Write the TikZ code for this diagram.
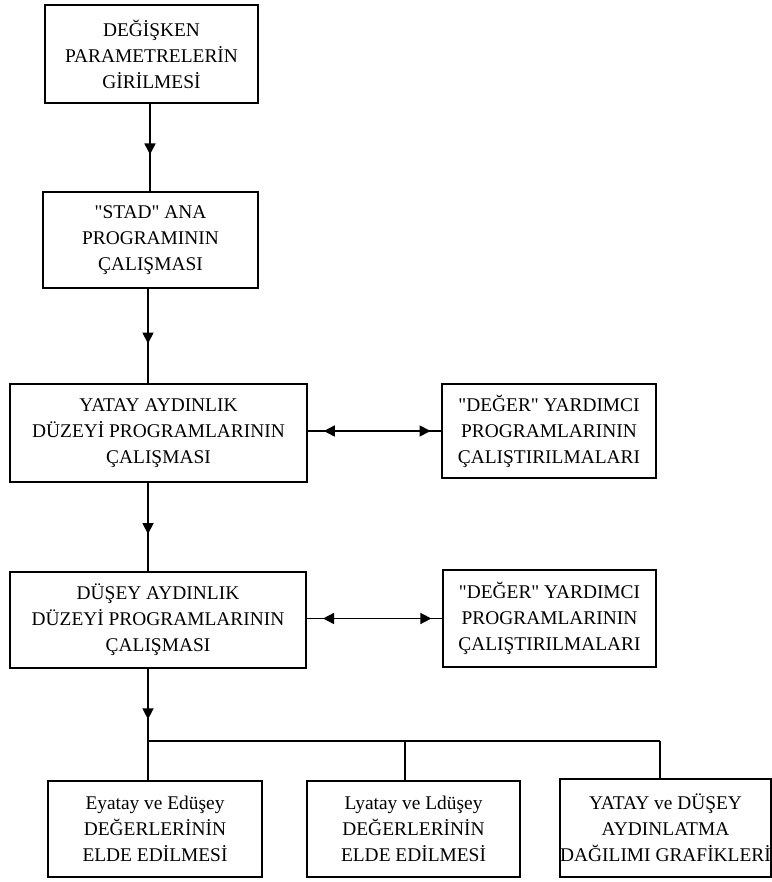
\documentclass[tikz,border=0pt]{standalone}
\usepackage{fontspec}
\setmainfont{Liberation Serif}[Ligatures=TeXOff]
\usetikzlibrary{arrows.meta}
\usetikzlibrary{decorations.markings}
\usetikzlibrary{positioning}

\tikzset{
  kutu/.style={draw, line width=0.8pt, align=center, inner sep=0pt,
    font=\fontsize{9.7}{13}\selectfont},
  ok/.style={line width=0.8pt, postaction={decorate},
    decoration={markings, mark=at position #1 with {\arrow{Triangle[length=5.5pt,width=5.5pt]}}}},
  ciftok/.style={line width=0.8pt, postaction={decorate},
    decoration={markings,
      mark=at position 0.12 with {\arrowreversed{Triangle[length=5.5pt,width=5.5pt]}},
      mark=at position 0.92 with {\arrow{Triangle[length=5.5pt,width=5.5pt]}}}}
}

\begin{document}
\begin{tikzpicture}[x=0.5pt, y=-0.5pt]
    \useasboundingbox (0, 0) rectangle (771, 882);

    \node [kutu, minimum width=106.5pt, minimum height=49pt] (giris) at (151.5, 54) {DEĞİŞKEN\\PARAMETRELERİN\\GİRİLMESİ};
    \node [kutu, minimum width=107.5pt, minimum height=48pt] (stad) at (150.5, 240) {"STAD" ANA\\PROGRAMININ\\ÇALIŞMASI};
    \node [kutu, minimum width=148.5pt, minimum height=49pt] (yatay) at (158.5, 433) {YATAY AYDINLIK\\DÜZEYİ PROGRAMLARININ\\ÇALIŞMASI};
    \node [kutu, minimum width=107pt, minimum height=47pt] (deger1) at (549, 431) {"DEĞER" YARDIMCI\\PROGRAMLARININ\\ÇALIŞTIRILMALARI};
    \node [kutu, minimum width=148pt, minimum height=48pt] (dusey) at (158, 620) {DÜŞEY AYDINLIK\\DÜZEYİ PROGRAMLARININ\\ÇALIŞMASI};
    \node [kutu, minimum width=106.5pt, minimum height=48.5pt] (deger2) at (549.5, 618.5) {"DEĞER" YARDIMCI\\PROGRAMLARININ\\ÇALIŞTIRILMALARI};

    \node [kutu, minimum width=107pt, minimum height=48pt] (edeger) at (155, 829) {Eyatay ve Edüşey\\DEĞERLERİNİN\\ELDE EDİLMESİ};
    \node [kutu, minimum width=106.5pt, minimum height=48pt] (ldeger) at (413.5, 829) {Lyatay ve Ldüşey\\DEĞERLERİNİN\\ELDE EDİLMESİ};
    \node [kutu, minimum width=104.5pt, minimum height=49pt] (grafik) at (665.5, 828) {YATAY ve DÜŞEY\\AYDINLATMA\\DAĞILIMI GRAFİKLERİ};

    \coordinate (k0) at (150, 150);
    \coordinate (k1) at (148, 741);
    \coordinate (k2) at (405, 741);
    \coordinate (k3) at (660, 741);

    \draw [ok=0.58] (giris.south -| k0) -- (stad.north -| k0);
    \draw [ok=0.58] (stad.south -| k1) -- (yatay.north -| k1);
    \draw [ok=0.58] (yatay.south -| k1) -- (dusey.north -| k1);
    \draw [ok=0.7] (dusey.south -| k1) -- (k1);
    \draw [ciftok] (yatay.east |- deger1) -- (deger1.west);
    \draw [ciftok] (dusey.east |- deger2) -- (deger2.west);

    \draw [line width=0.8pt] (k1) -- (k3);
    \draw [line width=0.8pt] (k1) -- (edeger.north -| k1);
    \draw [line width=0.8pt] (k2) -- (ldeger.north -| k2);
    \draw [line width=0.8pt] (k3) -- (grafik.north -| k3);
\end{tikzpicture}
\end{document}
